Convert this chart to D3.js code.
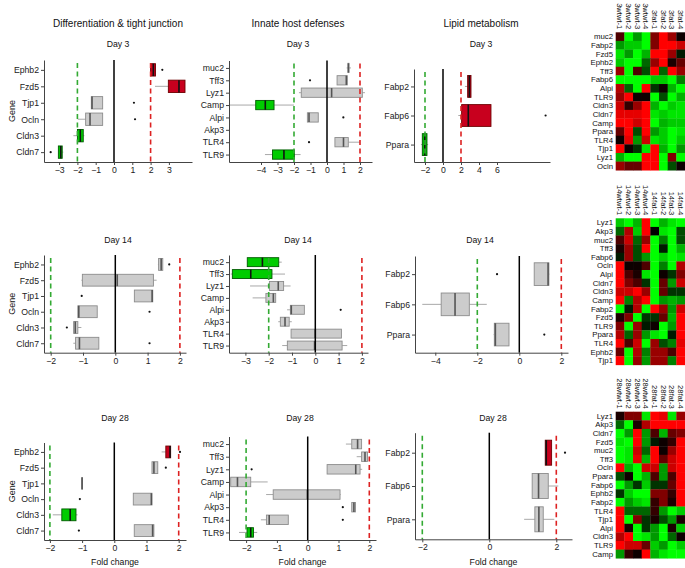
<!DOCTYPE html>
<html><head><meta charset="utf-8">
<script src="https://cdn.jsdelivr.net/npm/d3@7"></script>
<style>body{margin:0;background:#fff}svg{display:block;font-family:"Liberation Sans",Arial,sans-serif}</style>
</head><body><svg id="c" width="685" height="568"></svg>
<script>
// ---------------- DATA ----------------
const groupTitles = ["Differentiation & tight junction", "Innate host defenses", "Lipid metabolism"];
const dayLabels = ["Day 3", "Day 14", "Day 28"];
const diffGenes = ["Ephb2","Fzd5","Tjp1","Ocln","Cldn3","Cldn7"];
const innateGenes = ["muc2","Tff3","Lyz1","Camp","Alpi","Akp3","TLR4","TLR9"];
const lipidGenes = ["Fabp2","Fabp6","Ppara"];
// box stats: [whiskerLow, q1, median, q3, whiskerHigh, outliers, status]
const diffD3 = [
  [1.97, 2.0, 2.15, 2.27, 2.27, [2.64], "up"],
  [2.24, 2.97, 3.55, 3.88, 3.88, [], "up"],
  [-1.24, -1.24, -1.2, -0.62, -0.62, [1.09], "ns"],
  [-1.98, -1.55, -1.31, -0.62, -0.62, [1.15], "ns"],
  [-2.22, -2.0, -1.84, -1.68, -1.62, [], "down"],
  [-3.04, -3.04, -2.91, -2.83, -2.77, [-3.46], "down"]
];
const innateD3 = [
  [1.19, 1.27, 1.3, 1.33, 1.45, [], "ns"],
  [0.61, 0.61, 1.17, 1.23, 1.23, [-1.03], "ns"],
  [-1.7, -1.56, 0.28, 2.14, 2.3, [], "ns"],
  [-5.88, -4.32, -3.74, -3.21, -2.0, [], "down"],
  [-1.19, -1.19, -1.09, -0.53, -0.53, [0.99], "ns"],
  null,
  [0.48, 0.48, 1.0, 1.29, 2.0, [-1.09], "ns"],
  [-3.76, -3.3, -2.61, -1.98, -1.6, [], "down"]
];
const lipidD3 = [
  [2.44, 2.74, 2.93, 3.11, 3.11, [], "up"],
  [1.7, 2.07, 2.81, 5.33, 5.33, [11.4], "up"],
  [-2.45, -2.3, -2.03, -1.78, -1.65, [], "down"]
];
const diffD14 = [
  [1.32, 1.34, 1.42, 1.47, 1.47, [1.67], "ns"],
  [-1.05, -1.02, 0.06, 1.18, 1.28, [], "ns"],
  [0.59, 0.59, 1.14, 1.16, 1.16, [-1.04], "ns"],
  [-1.16, -1.16, -1.13, -0.56, -0.56, [1.06], "ns"],
  [-1.29, -1.29, -1.24, -1.16, -1.05, [-1.5], "ns"],
  [-1.3, -1.23, -1.11, -0.51, -0.51, [1.06], "ns"]
];
const innateD14 = [
  [-2.92, -2.92, -2.27, -1.57, -1.44, [], "down"],
  [-3.63, -3.56, -2.77, -1.86, -1.3, [], "down"],
  [-2.8, -1.97, -1.59, -1.36, -1.06, [], "ns"],
  [-2.69, -2.12, -1.8, -1.7, -1.7, [], "ns"],
  [-1.21, -1.07, -1.03, -0.47, -0.47, [1.09], "ns"],
  [-1.59, -1.5, -1.3, -1.12, -1.01, [], "ns"],
  [-1.04, -1.04, 0.0, 1.12, 1.12, [], "ns"],
  [-1.42, -1.2, -0.03, 1.15, 1.37, [], "ns"]
];
const lipidD14 = [
  [0.71, 0.71, 1.37, 1.41, 1.43, [-1.06], "ns"],
  [-4.62, -3.72, -3.06, -2.38, -1.55, [], "ns"],
  [-1.22, -1.19, -1.14, -0.49, -0.49, [1.19], "ns"]
];
const diffD28 = [
  [1.47, 1.6, 1.73, 1.75, 1.75, [2.04], "up"],
  [1.17, 1.17, 1.23, 1.35, 1.35, [1.6], "ns"],
  [-1.01, -1.01, -1.0, -0.99, -0.99, [], "ns"],
  [0.59, 0.59, 1.15, 1.17, 1.17, [-1.07], "ns"],
  [-1.91, -1.63, -1.37, -1.19, -1.14, [], "down"],
  [0.62, 0.62, 1.19, 1.23, 1.23, [-1.1], "ns"]
];
const innateD28 = [
  [1.24, 1.43, 1.62, 1.75, 1.75, [], "ns"],
  [1.59, 1.75, 1.86, 1.94, 1.94, [], "ns"],
  [0.63, 0.63, 1.56, 1.7, 1.77, [-1.82], "ns"],
  [-2.5, -2.5, -2.28, -1.85, -1.3, [], "ns"],
  [-1.35, -1.12, -0.01, 1.05, 1.07, [], "ns"],
  [1.43, 1.43, 1.5, 1.55, 1.55, [1.14], "ns"],
  [-1.52, -1.34, -1.25, -0.63, -0.63, [1.14], "ns"],
  [-2.23, -1.97, -1.85, -1.76, -1.64, [], "down"]
];
const lipidD28 = [
  [1.67, 1.67, 1.7, 1.86, 1.86, [2.26], "up"],
  [1.28, 1.28, 1.47, 1.76, 2.06, [], "ns"],
  [1.04, 1.36, 1.48, 1.61, 1.94, [], "ns"]
];
const thresholds = [-2, 0, 2];
const ticksD3 = [[-3,-2,-1,0,1,2,3], [-4,-3,-2,-1,0,1,2], [-2,0,2,4,6]];
const ticksD14 = [[-2,-1,0,1,2], [-3,-2,-1,0,1,2], [-4,-2,0,2]];
const ticksD28 = [[-2,-1,0,1,2], [-2,-1,0,1,2], [-2,0,2]];

// heatmaps
const hmCols3 = ["3wtwt-1","3wtwt-2","3wtwt-3","3wtwt-4","3fat-1","3fat-2","3fat-3","3fat-4"];
const hmCols14 = ["14wtwt-1","14wtwt-2","14wtwt-3","14wtwt-4","14fat-1","14fat-2","14fat-3","14fat-4"];
const hmCols28 = ["28wtwt-1","28wtwt-2","28wtwt-3","28wtwt-4","28fat-1","28fat-2","28fat-3","28fat-4"];
const hmRows3 = ["muc2","Fabp2","Fzd5","Ephb2","Tff3","Fabp6","Alpi","TLR9","Cldn3","Cldn7","Camp","Ppara","TLR4","Tjp1","Lyz1","Ocln"];
const hmVals3 = [
  [0.3,-1,-0.6,-1,0.5,1,0.6,0.05],
  [-0.6,-0.8,-0.8,-1,0.5,1,1,0.8],
  [-0.9,-0.6,-1,-0.7,1,1,0.6,-0.1],
  [-0.8,-1,-1,-0.4,0.6,1,0.1,0.4],
  [0.6,-1,0.3,-0.3,1,-0.4,1,0.6],
  [-1,-1,-1,-1,-0.8,-0.8,-1,-0.5],
  [0.7,-0.4,-1,1,-0.2,0.05,-0.7,-1],
  [0.6,1,0.05,0.05,-1,-0.3,-1,-0.7],
  [0.8,0.2,0.6,1,-0.7,-1,-0.8,-0.9],
  [0.9,0.9,0.9,1,-0.9,-0.8,-0.9,-0.9],
  [1,1,0.8,1,-1,-0.7,-0.8,-0.8],
  [0.4,1,-0.3,1,-0.6,-0.8,-1,-0.9],
  [0.05,0.9,-0.6,0.8,-0.9,-0.8,-1,-0.8],
  [1,0.05,-0.2,-0.9,1,-0.7,-1,-0.6],
  [-0.7,-1,-1,1,1,-1,0.5,-1],
  [0.6,0.4,0.4,1,1,-1,-0.3,0.05]
];
const hmRows14 = ["Lyz1","Akp3","muc2","Tff3","Fabp6","Ocln","Alpi","Cldn7","Cldn3","Camp","Fabp2","Fzd5","TLR9","Ppara","TLR4","Ephb2","Tjp1"];
const hmVals14 = [
  [-0.8,-1,-0.7,1,-1,-0.7,-0.9,-1],
  [-0.4,0.7,-0.8,1,0,-0.9,-1,-0.3],
  [0.3,0.8,-0.4,0.6,-1,-0.5,-1,-0.3],
  [0.1,0.6,-0.3,1,-1,-0.1,-1,-0.7],
  [-0.1,0.6,-0.3,-0.6,-1,-0.8,-1,-0.9],
  [1,0.05,0.05,0.3,-1,-0.5,-1,0.7],
  [1,0.3,0.1,-0.9,-1,0.05,-0.2,0.5],
  [1,0.5,0.3,-0.2,-1,0.4,-0.6,0.8],
  [0.8,0.8,1,0.6,-1,0.4,-0.2,-0.2],
  [1,-0.5,0.7,1,-1,-0.6,-0.7,-0.6],
  [-1,-0.1,0.7,-1,1,0.6,-0.6,0.8],
  [0.1,0.5,-1,-0.2,-0.2,0.4,-0.7,1],
  [0.5,-1,0.6,-0.1,0.05,-1,-0.6,1],
  [0.7,-0.4,0.6,-0.6,-0.9,-1,-0.1,1],
  [1,0.3,0.8,-1,0.6,-0.3,-0.5,0.9],
  [0.4,-1,0.7,-0.5,0.6,0.6,0.3,1],
  [1,-1,0.6,-0.6,0.6,0.6,-0.5,1]
];
const hmRows28 = ["Lyz1","Akp3","Cldn7","Fzd5","muc2","Tff3","Ocln","Ppara","Fabp6","Ephb2","Fabp2","TLR4","Tjp1","Alpi","Cldn3","TLR9","Camp"];
const hmVals28 = [
  [0.1,0.5,0.5,-0.9,1,0.9,-0.9,0.6],
  [-0.4,-1,0.1,0.7,1,1,1,1],
  [-1,-0.6,1,-0.6,0.3,-0.7,0.4,0.5],
  [-0.9,-1,1,-0.6,-0.1,0.05,0.2,1],
  [-1,-0.9,0.8,-0.4,1,0.05,0.6,1],
  [-1,-0.9,0.9,-0.7,1,0.4,0.8,1],
  [1,-0.7,-1,0.8,0.8,-0.6,0.8,1],
  [-0.3,0.05,-1,-0.7,0.3,-0.6,0.3,1],
  [-1,-0.6,-0.2,-0.8,-0.2,-0.2,0.4,1],
  [-0.2,-0.8,-1,-1,0.5,0.5,0.2,1],
  [-1,-0.6,-0.8,-0.9,0.2,0.5,0.1,1],
  [1,-0.4,-0.4,-0.4,0.2,-0.6,-1,-0.8],
  [1,-1,0.5,-0.2,0.1,-0.3,-0.6,0.1],
  [1,0.1,-1,-0.2,-0.6,-1,0.1,-0.8],
  [0.7,1,-1,-0.9,-0.6,-1,-0.4,0.05],
  [1,0.8,0.8,0.4,-0.8,-0.6,-1,-0.8],
  [-0.6,0.2,0.05,1,-0.7,-0.9,-1,-1]
];

// ---------------- LAYOUT ----------------
const svg = d3.select("#c");
const FONT = 8.7;
const fillC = {up:"#c8001e", down:"#00cc00", ns:"#cccccc"};
const strokeC = {up:"#6e0000", down:"#005a00", ns:"#8c8c8c"};
const medC = {up:"#111", down:"#111", ns:"#555"};
const lineC = ["#33aa33", "#000000", "#dd2222"];

const panels = [
  {genes:diffGenes, data:diffD3, ticks:ticksD3[0], x0:44, x1:192, y0:60, y1:162, z:114, u:18.3, tx:118, ty:47, day:0, head:0, gene:true},
  {genes:innateGenes, data:innateD3, ticks:ticksD3[1], x0:229, x1:372, y0:60.5, y1:162, z:327, u:16.5, tx:298, ty:47, day:0, head:1},
  {genes:lipidGenes, data:lipidD3, ticks:ticksD3[2], x0:414, x1:550, y0:69, y1:162, z:443, u:9, tx:481, ty:47, day:0, head:2},
  {genes:diffGenes, data:diffD14, ticks:ticksD14[0], x0:44, x1:186, y0:255, y1:352.7, z:115.3, u:32.3, tx:118, ty:243, day:1, gene:true},
  {genes:innateGenes, data:innateD14, ticks:ticksD14[1], x0:229, x1:368, y0:255, y1:352.7, z:315.3, u:23.3, tx:298, ty:243, day:1},
  {genes:lipidGenes, data:lipidD14, ticks:ticksD14[2], x0:415, x1:568, y0:256, y1:352.7, z:519.3, u:21, tx:480, ty:243, day:1},
  {genes:diffGenes, data:diffD28, ticks:ticksD28[0], x0:44, x1:186, y0:442.5, y1:540, z:114.3, u:32.2, tx:115, ty:420.5, day:2, gene:true, fc:true},
  {genes:innateGenes, data:innateD28, ticks:ticksD28[1], x0:229, x1:376, y0:436.5, y1:540, z:307.7, u:30.8, tx:300, ty:420.5, day:2, fc:true},
  {genes:lipidGenes, data:lipidD28, ticks:ticksD28[2], x0:415, x1:572, y0:432.7, y1:539.3, z:489.3, u:33.5, tx:493, ty:420.5, day:2, fc:true}
];

panels.forEach(p => {
  const g = svg.append("g");
  const x = d3.scaleLinear()
    .domain([(p.x0 - p.z) / p.u, (p.x1 - p.z) / p.u])
    .range([p.x0, p.x1]);
  const y = d3.scalePoint().domain(p.genes).range([p.y0, p.y1]).padding(0.6);
  const bh = y.step() * 0.75;

  // titles
  if (p.head !== undefined) {
    g.append("text").attr("x", p.tx).attr("y", 27).attr("text-anchor", "middle")
      .attr("font-size", 10).attr("fill", "#111").text(groupTitles[p.head]);
  }
  g.append("text").attr("x", p.tx).attr("y", p.ty).attr("text-anchor", "middle")
    .attr("font-size", FONT).attr("fill", "#111").text(dayLabels[p.day]);

  // boxes
  p.genes.forEach((gn, i) => {
    const d = p.data[i];
    if (!d) return;
    const [lo, q1, md, q3, hi, outs, st] = d;
    const cy = y(gn);
    const bg = g.append("g");
    if (lo < q1) bg.append("line").attr("x1", x(lo)).attr("x2", x(q1)).attr("y1", cy).attr("y2", cy)
      .attr("stroke", "#a8a8a8").attr("stroke-width", 1);
    if (hi > q3) bg.append("line").attr("x1", x(q3)).attr("x2", x(hi)).attr("y1", cy).attr("y2", cy)
      .attr("stroke", "#a8a8a8").attr("stroke-width", 1);
    bg.append("rect").attr("x", x(q1)).attr("y", cy - bh / 2)
      .attr("width", Math.max(x(q3) - x(q1), 0.5)).attr("height", bh)
      .attr("fill", fillC[st]).attr("stroke", strokeC[st]).attr("stroke-width", 0.9);
    bg.append("line").attr("x1", x(md)).attr("x2", x(md)).attr("y1", cy - bh / 2).attr("y2", cy + bh / 2)
      .attr("stroke", medC[st]).attr("stroke-width", 1.6);
    outs.forEach(o => bg.append("circle").attr("cx", x(o)).attr("cy", cy).attr("r", 1.1).attr("fill", "#111"));
  });

  // reference lines
  thresholds.forEach((t, k) => {
    const ln = g.append("line").attr("x1", x(t)).attr("x2", x(t))
      .attr("y1", p.y0 + (k === 1 ? 0 : 3)).attr("y2", p.y1)
      .attr("stroke", lineC[k]).attr("stroke-width", k === 1 ? 1.5 : 1.6);
    if (k !== 1) ln.attr("stroke-dasharray", "5,3.5");
  });

  // axes
  const ay = g.append("g").attr("transform", `translate(${p.x0},0)`)
    .call(d3.axisLeft(y).tickSize(3).tickSizeOuter(0).tickPadding(2));
  const ax = g.append("g").attr("transform", `translate(0,${p.y1})`)
    .call(d3.axisBottom(x).tickValues(p.ticks).tickSize(3).tickSizeOuter(0).tickPadding(2)
      .tickFormat(d3.format("d")));
  [ay, ax].forEach(a => {
    a.selectAll("path, line").attr("stroke", "#444").attr("stroke-width", 1);
    a.selectAll("text").attr("font-size", FONT).attr("fill", "#222")
      .attr("font-family", '"Liberation Sans",Arial,sans-serif');
  });
  // axis titles
  if (p.gene) {
    g.append("text").attr("transform", `translate(15,${(p.y0 + p.y1) / 2}) rotate(-90)`)
      .attr("text-anchor", "middle").attr("font-size", FONT + 0.3).attr("fill", "#111").text("Gene");
  }
  if (p.fc) {
    g.append("text").attr("x", (p.x0 + p.x1) / 2).attr("y", 565).attr("text-anchor", "middle")
      .attr("font-size", FONT).attr("fill", "#111").text("Fold change");
  }
});

// ---------------- HEATMAPS ----------------
const color = d3.scaleLinear().domain([-1, 0, 1]).range(["#00ff00", "#000000", "#ff0000"]).clamp(true);
const heatmaps = [
  {rows:hmRows3, cols:hmCols3, vals:hmVals3, top:32.3},
  {rows:hmRows14, cols:hmCols14, vals:hmVals14, top:218.3},
  {rows:hmRows28, cols:hmCols28, vals:hmVals28, top:411.7}
];
const cellH = 8.62;
heatmaps.forEach(h => {
  const g = svg.append("g");
  const hx = d3.scaleBand().domain(h.cols).range([615.7, 685]);
  const hy = d3.scaleBand().domain(h.rows).range([h.top, h.top + h.rows.length * cellH]);
  h.rows.forEach((r, i) => {
    h.cols.forEach((c, j) => {
      g.append("rect").attr("x", hx(c)).attr("y", hy(r))
        .attr("width", hx.bandwidth() + 0.3).attr("height", hy.bandwidth() + 0.3)
        .attr("fill", color(h.vals[i][j]));
    });
    g.append("text").attr("x", 613).attr("y", hy(r) + hy.bandwidth() / 2).attr("dy", "0.35em")
      .attr("text-anchor", "end").attr("font-size", 7.8).attr("fill", "#111").text(r);
  });
  h.cols.forEach(c => {
    g.append("text")
      .attr("transform", `translate(${hx(c) + hx.bandwidth() / 2},${h.top - 3}) rotate(90)`)
      .attr("dy", "0.35em").attr("text-anchor", "end").attr("font-size", 7.6).attr("fill", "#111").text(c);
  });
});
</script></body></html>
